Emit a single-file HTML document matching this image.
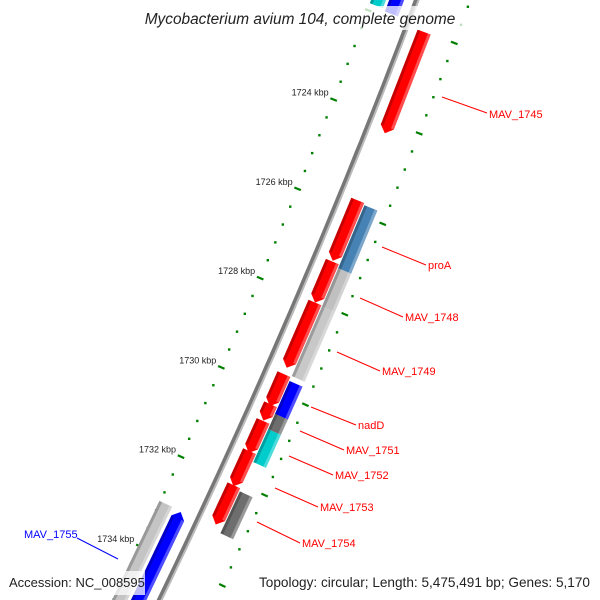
<!DOCTYPE html>
<html><head><meta charset="utf-8"><style>
html,body{margin:0;background:#fff;overflow:hidden;width:600px;height:600px}
svg{display:block;font-family:"Liberation Sans","DejaVu Sans",sans-serif;overflow:hidden}
</style></head><body>
<svg id="map" width="600" height="600" viewBox="0 0 600 600" xmlns="http://www.w3.org/2000/svg">
<g id="ticks"></g>
<g id="backbone"></g>
<g id="genes"></g>
<g id="labels"></g>
<rect x="138" y="6" width="326" height="24" fill="#fff" fill-opacity="0.75"/>
<text x="300" y="24" text-anchor="middle" font-size="15.4" font-style="italic" fill="#222">Mycobacterium avium 104, complete genome</text>
<rect x="5" y="571" width="140" height="24" fill="#fff" fill-opacity="0.75"/>
<text x="9" y="587" font-size="13" fill="#222">Accession: NC_008595</text>
<rect x="256" y="571" width="340" height="24" fill="#fff" fill-opacity="0.75"/>
<text x="590" y="587" text-anchor="end" font-size="13.6" fill="#222">Topology: circular; Length: 5,475,491 bp; Genes: 5,170</text>
</svg>
<script>
const geneStarts=[1722.01,1725.75,1725.79,1727.11,1727.19,1728.02,1728.04,1729.61,1729.69,1730.28,1730.42,1730.65,1730.76,1731.32,1732.08,1732.14,1733.02,1733.0,1721.3,1721.4];
const geneEnds=[1724.26,1727.09,1727.19,1728.02,1728.04,1729.47,1729.58,1730.32,1730.42,1730.64,1730.76,1731.36,1731.49,1732.10,1732.95,1733.07,1735.6,1735.6,1721.85,1721.9];
const geneLanes=[1,1,2,1,2,1,2,1,2,1,2,1,2,1,1,2,-1,-2,-2,-1];
const geneStrands=[1,1,0,1,0,1,0,1,0,1,0,1,0,1,1,0,-1,0,0,0];
const geneColors=["#ff0000","#ff0000","#4682b4","#ff0000","#c0c0c0","#ff0000","#c8c8c8","#ff0000","#0000ff","#ff0000","#6e6e6e","#ff0000","#00cccc","#ff0000","#ff0000","#6e6e6e","#0000ff","#c4c4c4","#00cccc","#0000ff"];
const tickLabels=["1724 kbp","1726 kbp","1728 kbp","1730 kbp","1732 kbp","1734 kbp"];
const tickLabelPos=[1724,1726,1728,1730,1732,1734];
const geneLabelNames=["MAV_1745","proA","MAV_1748","MAV_1749","nadD","MAV_1751","MAV_1752","MAV_1753","MAV_1754","MAV_1755"];
const geneLabelColors=["red","red","red","red","red","red","red","red","red","blue"];
const NS="http://www.w3.org/2000/svg";
function yb(p){return 115+(p-1724)*44.9;}
function pt(p,d){const y=yb(p);const x=417-0.375*y-8.9e-5*y*y;const sx=-0.375-1.78e-4*y;const L=Math.sqrt(1+sx*sx);return [x+d/L,y-d*sx/L];}
function laneOff(l){return l===1?18:l===2?33:l===-1?-19:-36;}
function mk(tag,attrs,parent){const e=document.createElementNS(NS,tag);for(const k in attrs)e.setAttribute(k,attrs[k]);parent.appendChild(e);return e;}
function poly(pts){return pts.map(q=>{const r=pt(q[0],q[1]);return r[0].toFixed(1)+","+r[1].toFixed(1);}).join(" ");}
const tg=document.getElementById("ticks");
for(let i=0;i<=40;i++){const p=1720+i*0.4;const major=i%5===0;
 [-42,50].forEach(d=>{
  if(major){const a=pt(p,d-3.5),b=pt(p,d+3.5);const t=mk("line",{x1:a[0],y1:a[1],x2:b[0],y2:b[1],stroke:"#008000","stroke-width":2.2},tg);
   
   }
  else{const a=pt(p,d);const t=mk("rect",{x:a[0]-1.2,y:a[1]-1.2,width:2.4,height:2.4,fill:"#008000"},tg);
   
   }
 });}
tickLabels.forEach((s,i)=>{const a=pt(tickLabelPos[i],-42);const t=mk("text",{x:a[0]-5,y:a[1]-4,"text-anchor":"end","font-size":"9",fill:"#222"},tg);t.textContent=s;
 
 });
const bg=document.getElementById("backbone");
let bp=[],bp2=[];for(let p=1719;p<=1736.4;p+=0.2){bp.push([p,-1]);bp2.push([p,1.5]);}
const b1=mk("polyline",{points:poly(bp),fill:"none",stroke:"#777","stroke-width":4},bg);


const b2=mk("polyline",{points:poly(bp2),fill:"none",stroke:"#bbb","stroke-width":2},bg);


const gg=document.getElementById("genes");
const A=0.14,W=7;
function shape(s,e,d,st,lo,hi){if(st===1)return [[s,d+lo],[e-A,d+lo],[e,d],[e-A,d+hi],[s,d+hi]];if(st===-1)return [[s+A,d+lo],[e,d+lo],[e,d+hi],[s+A,d+hi],[s,d]];return [[s,d+lo],[e,d+lo],[e,d+hi],[s,d+hi]];}
geneStarts.forEach((s,i)=>{const e=geneEnds[i],d=laneOff(geneLanes[i]),st=geneStrands[i];
 const g=mk("g",{},gg);
 
 
 mk("polygon",{points:poly(shape(s,e,d,st,-W,W)),fill:geneColors[i]},g);
 mk("polygon",{points:poly([[s+(st===-1?A:0),d-W],[e-(st===1?A:0),d-W],[e-(st===1?A:0),d-W+3],[s+(st===-1?A:0),d-W+3]]),fill:"#000","fill-opacity":0.22},g);
 mk("polygon",{points:poly([[s+(st===-1?A:0),d+W-3],[e-(st===1?A:0),d+W-3],[e-(st===1?A:0),d+W],[s+(st===-1?A:0),d+W]]),fill:"#fff","fill-opacity":0.3},g);
});
const lg=document.getElementById("labels");
const labX=[489,428,405,382,358,346,335,320,302,24],labY=[118,269,321,375,429,454,479,511,547,538];
const lnA=[[442,97],[382,247],[360,298],[337,352],[311,407],[300,431],[289,456],[275,488],[257,522],[77,538]];
const lnB=[[487,113],[426,265],[403,317],[380,371],[356,425],[344,450],[333,475],[318,507],[300,543],[118,559]];
geneLabelNames.forEach((n,i)=>{const c=geneLabelColors[i]==="red"?"#ff0000":"#0000ff";
 const l=mk("line",{x1:lnA[i][0],y1:lnA[i][1],x2:lnB[i][0],y2:lnB[i][1],stroke:c,"stroke-width":1},lg);
 
 
 const t=mk("text",{x:labX[i],y:labY[i],"font-size":"11",fill:c},lg);t.textContent=n;
 
 });
</script>
</body></html>
